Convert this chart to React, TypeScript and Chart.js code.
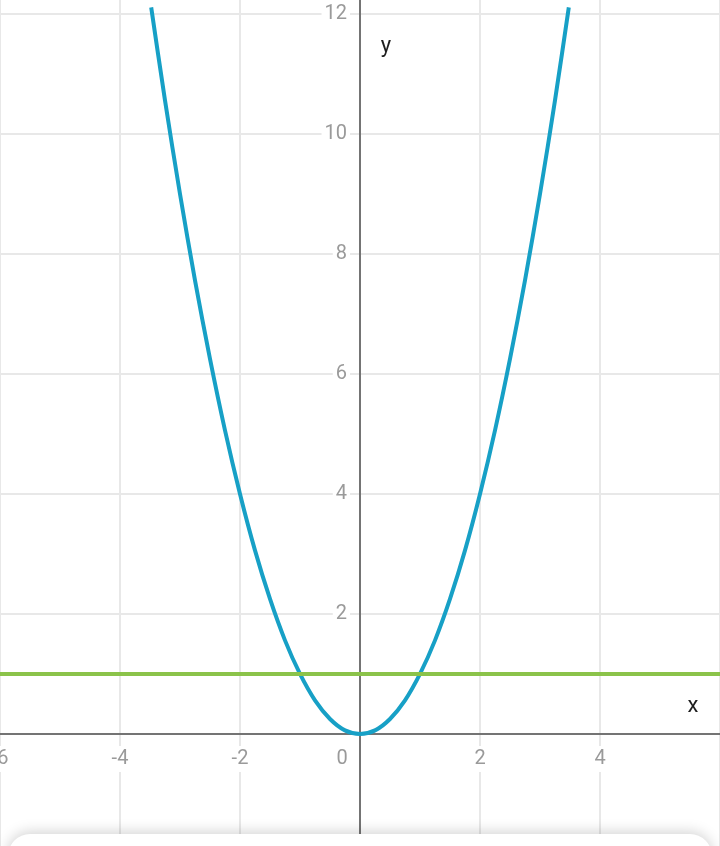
import React, { useEffect, useRef } from "react";
import { Chart, registerables } from "chart.js";

Chart.register(...registerables);

// Parabola y = x²
const parabolaX = [-3.48, -3.25, -3, -2.75, -2.5, -2.25, -2, -1.75, -1.5, -1.25, -1, -0.75, -0.5, -0.25, 0,
  0.25, 0.5, 0.75, 1, 1.25, 1.5, 1.75, 2, 2.25, 2.5, 2.75, 3, 3.25, 3.48];
const parabolaY = [12.11, 10.56, 9, 7.56, 6.25, 5.06, 4, 3.06, 2.25, 1.56, 1, 0.56, 0.25, 0.06, 0,
  0.06, 0.25, 0.56, 1, 1.56, 2.25, 3.06, 4, 5.06, 6.25, 7.56, 9, 10.56, 12.11];

// Horizontal line y = 1
const lineX = [-6, 6];
const lineY = [1, 1];

// Axis ticks
const xTicks = [-6, -4, -2, 0, 2, 4, 6];
const xLabelValues = [-6, -4, -2, 0, 2, 4];
const xTickLabels = ["-6", "-4", "-2", "0", "2", "4"];
const yTicks = [2, 4, 6, 8, 10, 12];
const yTickLabels = ["2", "4", "6", "8", "10", "12"];

const X_MIN = -6, X_MAX = 6, Y_MIN = -1.867, Y_MAX = 12.233;

const overlayPlugin = {
  id: "overlay",
  beforeDatasetsDraw(chart: any) {
    const { ctx, scales } = chart;
    const xs = scales.x, ys = scales.y;
    const x0 = xs.getPixelForValue(0), y0 = ys.getPixelForValue(0);
    ctx.save();
    ctx.strokeStyle = "#747474";
    ctx.lineWidth = 2;
    ctx.beginPath();
    ctx.moveTo(0, y0); ctx.lineTo(chart.width, y0);
    ctx.moveTo(x0, 0); ctx.lineTo(x0, chart.height);
    ctx.stroke();
    ctx.restore();
  },
  afterDraw(chart: any) {
    const { ctx, scales } = chart;
    const xs = scales.x, ys = scales.y;
    const x0 = xs.getPixelForValue(0), y0 = ys.getPixelForValue(0);
    ctx.save();
    ctx.font = "20px Roboto";
    ctx.textBaseline = "middle";
    // x labels
    xLabelValues.forEach((v, i) => {
      const label = xTickLabels[i];
      let cx = xs.getPixelForValue(v);
      if (v === 0) cx = x0 - 18;
      const w = ctx.measureText(label).width;
      const cy = y0 + 25;
      ctx.fillStyle = "#ffffff";
      ctx.fillRect(cx - w / 2 - 3, cy - 13, w + 6, 26);
      ctx.fillStyle = "#9a9a9a";
      ctx.textAlign = "center";
      ctx.fillText(label, cx, cy);
    });
    // y labels
    yTicks.forEach((v, i) => {
      const label = yTickLabels[i];
      const cy = ys.getPixelForValue(v);
      const w = ctx.measureText(label).width;
      const rx = x0 - 13;
      ctx.fillStyle = "#ffffff";
      ctx.fillRect(rx - w - 3, cy - 12, w + 6, 24);
      ctx.fillStyle = "#9a9a9a";
      ctx.textAlign = "right";
      ctx.fillText(label, rx, cy);
    });
    // axis names
    ctx.font = "22px Roboto";
    ctx.fillStyle = "#1e1e1e";
    ctx.textAlign = "center";
    ctx.fillText("y", x0 + 26, ys.getPixelForValue(11.45));
    ctx.fillText("x", xs.getPixelForValue(5.55), y0 - 27);
    // bottom panel
    const top = 834;
    ctx.shadowColor = "rgba(0,0,0,0.18)";
    ctx.shadowBlur = 14;
    ctx.shadowOffsetY = -2;
    ctx.fillStyle = "#ffffff";
    ctx.beginPath();
    (ctx as any).roundRect(8, top, chart.width - 16, 60, 22);
    ctx.fill();
    ctx.restore();
  },
};

export default function App() {
  const ref = useRef<HTMLCanvasElement>(null);
  useEffect(() => {
    document.body.style.margin = "0";
    const chart = new Chart(ref.current!, {
      type: "scatter",
      data: {
        datasets: [
          {
            data: lineX.map((x, i) => ({ x, y: lineY[i] })),
            showLine: true,
            borderColor: "#8bc34a",
            borderWidth: 4,
            pointRadius: 0,
          },
          {
            data: parabolaX.map((x, i) => ({ x, y: parabolaY[i] })),
            showLine: true,
            borderColor: "#17a0c6",
            borderWidth: 4,
            pointRadius: 0,
            tension: 0.3,
          },
        ],
      },
      options: {
        animation: false,
        responsive: false,
        maintainAspectRatio: false,
        layout: { padding: 0 },
        plugins: { legend: { display: false }, tooltip: { enabled: false } },
        scales: {
          x: {
            type: "linear",
            min: X_MIN,
            max: X_MAX,
            afterBuildTicks: (s: any) => { s.ticks = xTicks.map((v) => ({ value: v })); },
            ticks: { display: false },
            grid: { color: "#e8e8e8", lineWidth: 2, drawTicks: false },
            border: { display: false },
          },
          y: {
            type: "linear",
            min: Y_MIN,
            max: Y_MAX,
            afterBuildTicks: (s: any) => { s.ticks = [0, ...yTicks].map((v) => ({ value: v })); },
            ticks: { display: false },
            grid: { color: "#e8e8e8", lineWidth: 2, drawTicks: false },
            border: { display: false },
          },
        },
      },
      plugins: [overlayPlugin],
    });
    return () => chart.destroy();
  }, []);
  return (
    <div style={{ position: "fixed", left: 0, top: 0, width: 720, height: 846, background: "#fff" }}>
      <canvas ref={ref} width={720} height={846} style={{ display: "block" }} />
    </div>
  );
}
